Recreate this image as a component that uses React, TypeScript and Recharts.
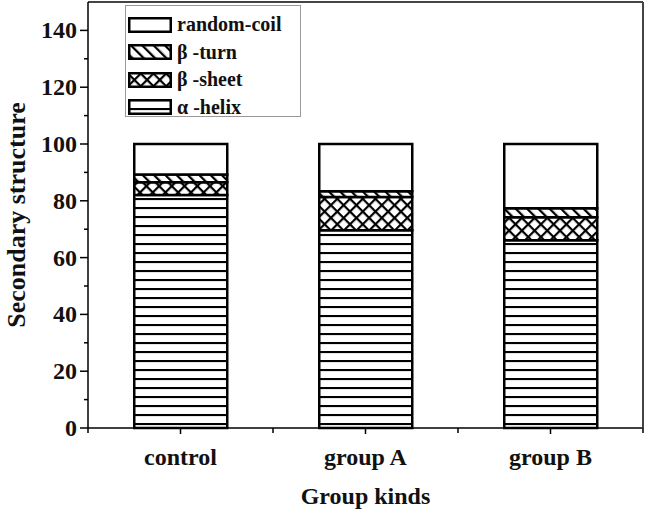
import { BarChart, Bar, XAxis, YAxis, ReferenceLine } from 'recharts'

const groups = ['control', 'group A', 'group B']
const helix = [82, 69.6, 66.1]
const sheet = [4.5, 11.7, 8.1]
const turn = [2.8, 2.1, 3.2]
const coil = [10.7, 16.6, 22.6]

const yTicks = [0, 10, 20, 30, 40, 50, 60, 70, 80, 90, 100, 110, 120, 130, 140]

const legendItems = [
  { label: 'random-coil', fill: '#fff' },
  { label: 'β -turn', fill: 'url(#turnPat)' },
  { label: 'β -sheet', fill: 'url(#sheetPat)' },
  { label: 'α -helix', fill: 'url(#helixPat)' },
]

const data = groups.map((name, i) => ({
  name,
  helix: helix[i],
  sheet: sheet[i],
  turn: turn[i],
  coil: coil[i],
}))

const font = '"Liberation Serif", "Times New Roman", serif'

const YTick = (props: any) => {
  const { x, y, payload } = props
  const major = payload.value % 20 === 0
  return (
    <g>
      <line x1={x - (major ? 8 : 4)} x2={x} y1={y} y2={y} stroke="#000" strokeWidth={1.5} />
      {major && (
        <text
          x={x - 11}
          y={y}
          dy={8}
          textAnchor="end"
          fontFamily={font}
          fontWeight="bold"
          fontSize={24}
          fill="#111"
        >
          {payload.value}
        </text>
      )}
    </g>
  )
}

const XTick = (props: any) => {
  const { x, y, payload, index, width } = props
  const band = width / groups.length
  return (
    <g>
      <line x1={x} x2={x} y1={y} y2={y + 6} stroke="#000" strokeWidth={1.5} />
      <line x1={x - band / 2} x2={x - band / 2} y1={y} y2={y + 5} stroke="#000" strokeWidth={1.5} />
      {index === groups.length - 1 && (
        <line x1={x + band / 2} x2={x + band / 2} y1={y} y2={y + 5} stroke="#000" strokeWidth={1.5} />
      )}
      <text
        x={x}
        y={y + 37}
        textAnchor="middle"
        fontFamily={font}
        fontWeight="bold"
        fontSize={24}
        fill="#111"
      >
        {payload.value}
      </text>
    </g>
  )
}

const LegendBox = () => (
  <div
    style={{
      position: 'absolute',
      left: 125,
      top: 5,
      border: '1px solid #999',
      background: '#fff',
      width: 176,
      height: 112,
      boxSizing: 'border-box',
      padding: '5px 0 0 2px',
      fontFamily: font,
      fontWeight: 'bold',
      fontSize: 20,
      color: '#111',
    }}
  >
    {legendItems.map((it) => (
      <div key={it.label} style={{ display: 'flex', alignItems: 'center', height: 27.5 }}>
        <svg width={44} height={16} style={{ marginRight: 5 }}>
          <rect x={1.25} y={1.25} width={41.5} height={13.5} fill={it.fill} stroke="#000" strokeWidth={2.5} />
        </svg>
        <span>{it.label}</span>
      </div>
    ))}
  </div>
)

export default function App() {
  return (
    <div style={{ position: 'absolute', left: 0, top: 0, width: 647, height: 523, background: '#fff' }}>
      <BarChart
        width={647}
        height={523}
        data={data}
        margin={{ top: 2, right: 0, bottom: 0, left: 0 }}
        barCategoryGap="25%"
      >
        <defs>
          <pattern id="helixPat" patternUnits="userSpaceOnUse" width={10} height={9}>
            <rect width={10} height={9} fill="#fff" />
            <line x1={0} x2={10} y1={1} y2={1} stroke="#000" strokeWidth={2.2} />
          </pattern>
          <pattern
            id="sheetPat"
            patternUnits="userSpaceOnUse"
            width={9}
            height={9}
            patternTransform="rotate(45)"
          >
            <rect width={9} height={9} fill="#fff" />
            <line x1={1} x2={1} y1={0} y2={9} stroke="#000" strokeWidth={2.4} />
            <line x1={0} x2={9} y1={1} y2={1} stroke="#000" strokeWidth={2.4} />
          </pattern>
          <pattern
            id="turnPat"
            patternUnits="userSpaceOnUse"
            width={8}
            height={8}
            patternTransform="rotate(-45)"
          >
            <rect width={8} height={8} fill="#fff" />
            <line x1={1} x2={1} y1={0} y2={8} stroke="#000" strokeWidth={2.5} />
          </pattern>
        </defs>
        <XAxis
          dataKey="name"
          height={95}
          tickSize={0}
          tickMargin={0}
          tickLine={false}
          tick={<XTick />}
          axisLine={{ stroke: '#000', strokeWidth: 1.5 }}
          label={{
            value: 'Group kinds',
            position: 'insideBottom',
            offset: 19,
            fontFamily: font,
            fontWeight: 'bold',
            fontSize: 24,
            fill: '#111',
          }}
        />
        <YAxis
          width={88}
          domain={[0, 150]}
          ticks={yTicks}
          interval={0}
          tickSize={0}
          tickMargin={0}
          tickLine={false}
          tick={<YTick />}
          axisLine={{ stroke: '#000', strokeWidth: 1.5 }}
          label={{
            value: 'Secondary structure',
            angle: -90,
            position: 'insideLeft',
            offset: 16,
            style: { textAnchor: 'middle' },
            fontFamily: font,
            fontWeight: 'bold',
            fontSize: 26,
            fill: '#111',
          }}
        />
        <YAxis
          yAxisId="frame"
          orientation="right"
          width={4}
          tick={false}
          tickLine={false}
          axisLine={{ stroke: '#444', strokeWidth: 2 }}
        />
        <ReferenceLine y={150} stroke="#444" strokeWidth={2} />
        <Bar dataKey="helix" stackId="s" fill="url(#helixPat)" stroke="#000" strokeWidth={2.5} isAnimationActive={false} />
        <Bar dataKey="sheet" stackId="s" fill="url(#sheetPat)" stroke="#000" strokeWidth={2.5} isAnimationActive={false} />
        <Bar dataKey="turn" stackId="s" fill="url(#turnPat)" stroke="#000" strokeWidth={2.5} isAnimationActive={false} />
        <Bar dataKey="coil" stackId="s" fill="#fff" stroke="#000" strokeWidth={2.5} isAnimationActive={false} />
      </BarChart>
      <LegendBox />
    </div>
  )
}
